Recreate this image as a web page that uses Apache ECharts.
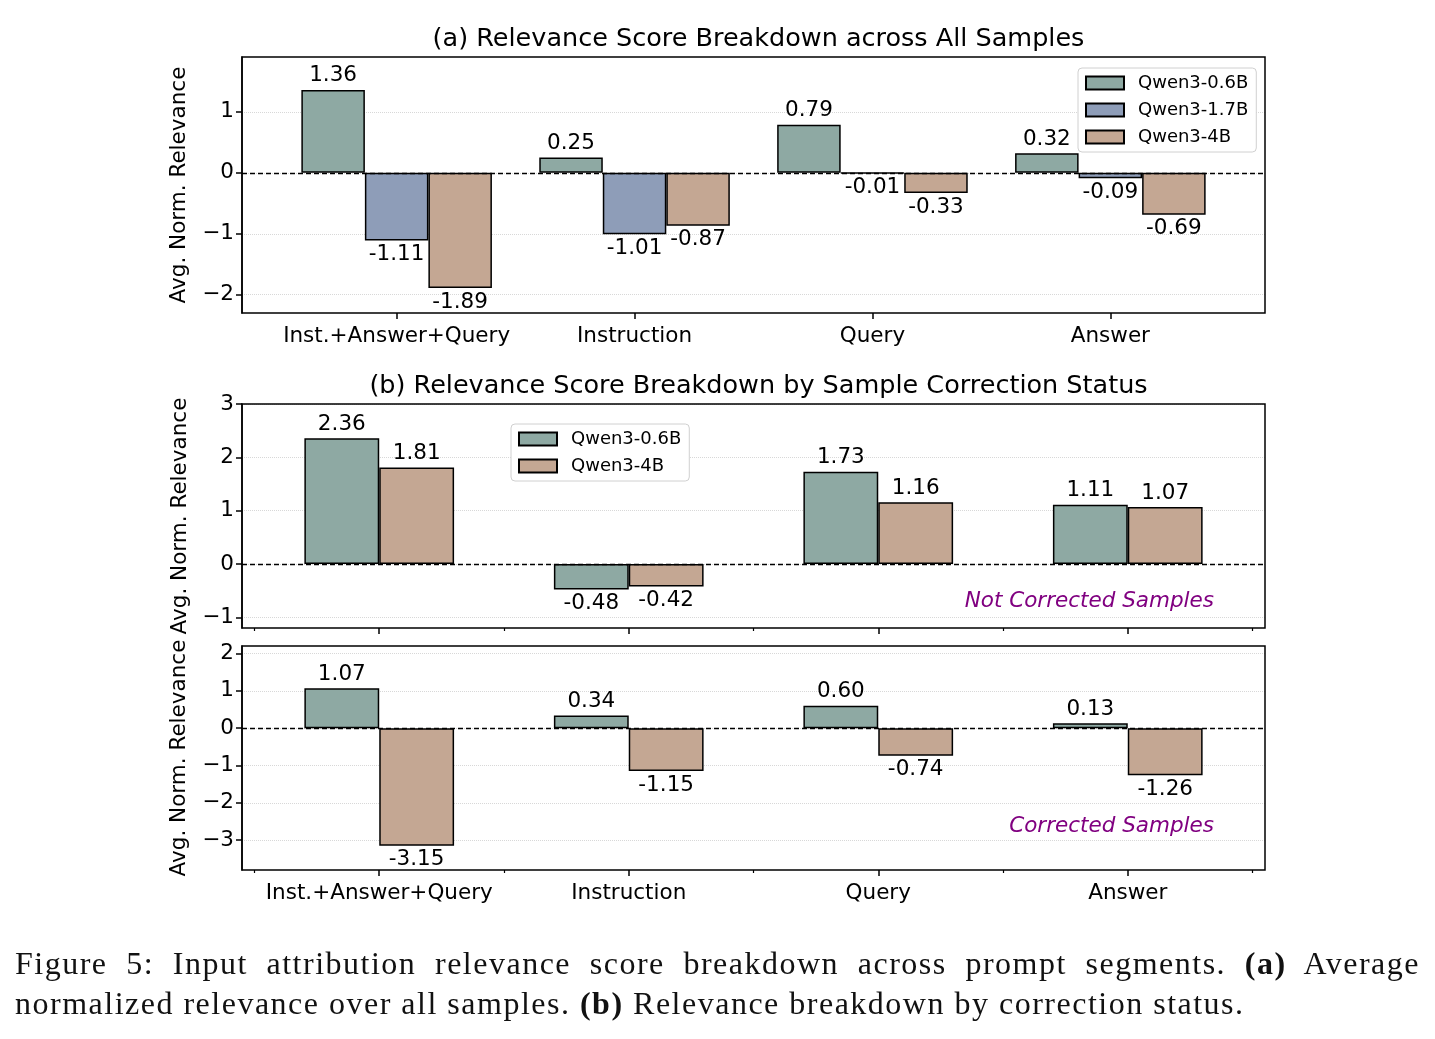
<!DOCTYPE html>
<html>
<head>
<meta charset="utf-8">
<script src="https://cdn.jsdelivr.net/npm/echarts@6/dist/echarts.min.js"></script>
<style>
  html, body { margin: 0; padding: 0; background: #fff; }
  #main { position: absolute; left: 0; top: 0; width: 1435px; height: 1039px; }
  .cap { position: absolute; left: 15px; width: 1405px; font-family: 'Liberation Serif', serif; font-size: 32px; line-height: 40px; letter-spacing: 1.5px; color: #111; white-space: nowrap; }
  #cap1 { top: 943px; text-align: justify; text-align-last: justify; }
  #cap2 { top: 983px; }
</style>
</head>
<body>
<div id="main"></div>
<div class="cap" id="cap1">Figure 5: Input attribution relevance score breakdown across prompt segments. <b>(a)</b> Average</div>
<div class="cap" id="cap2">normalized relevance over all samples. <b>(b)</b> Relevance breakdown by correction status.</div>
<script>
// 数据
var categories = ['Inst.+Answer+Query', 'Instruction', 'Query', 'Answer'];
var models = ['Qwen3-0.6B', 'Qwen3-1.7B', 'Qwen3-4B'];
var colors = ['#8ea9a3', '#8e9db8', '#c4a793'];

// (a) all samples
var all06 = [1.36, 0.25, 0.79, 0.32];
var all17 = [-1.11, -1.01, -0.01, -0.09];
var all4 = [-1.89, -0.87, -0.33, -0.69];
// (b) not corrected samples
var notCorr06 = [2.36, -0.48, 1.73, 1.11];
var notCorr4 = [1.81, -0.42, 1.16, 1.07];
// (b) corrected samples
var corr06 = [1.07, 0.34, 0.60, 0.13];
var corr4 = [-3.15, -1.15, -0.74, -1.26];

// y轴范围和刻度
var yRangeA = [-2.3, 1.9];
var yRangeB1 = [-1.2, 3.0];
var yRangeB2 = [-3.8, 2.2];
var yTicksA = [-2, -1, 0, 1];
var yTicksB1 = [-1, 0, 1, 2, 3];
var yTicksB2 = [-3, -2, -1, 0, 1, 2];

var FONT = 'DejaVu Sans';
var frameLeft = 242, frameWidth = 1023;

var chart = echarts.init(document.getElementById('main'));

// 只显示整数刻度, 用真正的减号
function minusFmt(v){
	if (!Number.isInteger(Math.round(v * 1000) / 1000)) return '';
	v = Math.round(v);
	return v < 0 ? '\u2212' + Math.abs(v) : String(v);
}

// 每个柱子的标签放在柱顶或柱底
function makeData(vals){
	return vals.map(function(v){
		return { value: v, label: { position: v < 0 ? 'bottom' : 'top' } };
	});
}

var grid = [], xAxis = [], yAxis = [], series = [];

// 一个子图: 外框grid(带y轴) + 内部grid(类目轴和柱子)
function addPanel(top, height, pad, yRange, yTicks, nameGap, showXLabels, minorTicks, barWidth, seriesList){
	var span = 3 + 2 * pad;
	var band = frameWidth / span;
	var innerLeft = frameLeft + (pad - 0.5) * band;
	var gOuter = grid.length;
	grid.push({ left: frameLeft, top: top, width: frameWidth, height: height, show: true, z: 3, borderColor: '#000', borderWidth: 1.5, backgroundColor: 'transparent' });
	grid.push({ left: innerLeft, top: top, width: band * 4, height: height });
	var xo = xAxis.length;
	xAxis.push({ type: 'value', gridIndex: gOuter, min: 0, max: 1, show: false });
	xAxis.push({
		type: 'category', gridIndex: gOuter + 1, data: categories, position: 'bottom',
		axisLine: { show: false, onZero: false },
		axisTick: { show: true, interval: 0, alignWithLabel: true, length: 6, lineStyle: { color: '#000', width: 1.5 } },
		axisLabel: { show: showXLabels, interval: 0, color: '#000', fontSize: 21.5, fontFamily: FONT, margin: 12 },
		splitLine: { show: false }
	});
	if (minorTicks) {
		xAxis.push({
			type: 'category', gridIndex: gOuter + 1, data: categories, position: 'bottom',
			axisLine: { show: false, onZero: false },
			axisTick: { show: true, interval: 0, alignWithLabel: false, length: 3, lineStyle: { color: '#000', width: 1.2 } },
			axisLabel: { show: false }, splitLine: { show: false }
		});
	}
	var yo = yAxis.length;
	yAxis.push({
		type: 'value', gridIndex: gOuter, min: yRange[0], max: yRange[1], minInterval: 1, maxInterval: 1,
		name: 'Avg. Norm. Relevance', nameLocation: 'middle', nameGap: nameGap,
		nameTextStyle: { color: '#000', fontSize: 21.5, fontFamily: FONT },
		axisLine: { show: true, lineStyle: { color: '#000', width: 1.5 } },
		axisTick: { show: true, customValues: yTicks, length: 6, lineStyle: { color: '#000', width: 1.5 } },
		axisLabel: { customValues: yTicks, color: '#000', fontSize: 21.5, fontFamily: FONT, margin: 8, formatter: minusFmt },
		splitLine: { show: true, lineStyle: { color: '#d8d8d8', type: 'dotted', width: 1 } }
	});
	yAxis.push({ type: 'value', gridIndex: gOuter + 1, min: yRange[0], max: yRange[1], show: false, splitLine: { show: false } });

	// 0 处的虚线
	series.push({
		type: 'line', xAxisIndex: xo, yAxisIndex: yo, data: [], silent: true, z: 5,
		markLine: { silent: true, symbol: 'none', label: { show: false }, animation: false,
			lineStyle: { type: [5, 3], color: '#000', width: 1.3 }, data: [{ yAxis: 0 }] }
	});
	seriesList.forEach(function(s){
		series.push({
			name: s.name, type: 'bar', xAxisIndex: xo + 1, yAxisIndex: yo + 1,
			data: makeData(s.vals), barWidth: barWidth, barGap: '0%',
			itemStyle: { color: s.color, borderColor: '#000', borderWidth: 1.5 },
			label: { show: true, distance: 3, color: '#000', fontSize: 21.5, fontFamily: FONT,
				formatter: function(p){ return p.value.toFixed(2); } },
			animation: false
		});
	});
}

addPanel(57, 256, 0.65, yRangeA, yTicksA, 52, true, false, '26.7%', [
	{ name: models[0], vals: all06, color: colors[0] },
	{ name: models[1], vals: all17, color: colors[1] },
	{ name: models[2], vals: all4, color: colors[2] }
]);
addPanel(404, 224, 0.55, yRangeB1, yTicksB1, 43, false, true, '30%', [
	{ name: models[0], vals: notCorr06, color: colors[0] },
	{ name: models[2], vals: notCorr4, color: colors[2] }
]);
addPanel(646, 224, 0.55, yRangeB2, yTicksB2, 52, true, true, '30%', [
	{ name: models[0], vals: corr06, color: colors[0] },
	{ name: models[2], vals: corr4, color: colors[2] }
]);

var legendBase = {
	orient: 'vertical', icon: 'rect', itemWidth: 38, itemHeight: 13, itemGap: 9,
	padding: [6, 8, 6, 7], backgroundColor: '#fff', borderColor: '#d0d0d0', borderWidth: 1, borderRadius: 4,
	textStyle: { color: '#000', fontSize: 18, fontFamily: FONT, lineHeight: 18, padding: [0, 0, 0, 9] },
	selectedMode: false
};

var option = {
	backgroundColor: '#fff',
	animation: false,
	title: [
		{ text: '(a) Relevance Score Breakdown across All Samples', left: frameLeft + frameWidth / 2, textAlign: 'center', top: 21,
			textStyle: { color: '#000', fontSize: 25.5, fontWeight: 'normal', fontFamily: FONT } },
		{ text: '(b) Relevance Score Breakdown by Sample Correction Status', left: frameLeft + frameWidth / 2, textAlign: 'center', top: 368,
			textStyle: { color: '#000', fontSize: 25.5, fontWeight: 'normal', fontFamily: FONT } },
		{ text: 'Not Corrected Samples', right: 216, top: 585,
			textStyle: { color: '#800080', fontSize: 21.5, fontStyle: 'italic', fontWeight: 'normal', fontFamily: FONT } },
		{ text: 'Corrected Samples', right: 216, top: 810,
			textStyle: { color: '#800080', fontSize: 21.5, fontStyle: 'italic', fontWeight: 'normal', fontFamily: FONT } }
	],
	legend: [
		Object.assign({}, legendBase, { left: 1078, top: 68, data: models }),
		Object.assign({}, legendBase, { left: 511, top: 424, data: [models[0], models[2]] })
	],
	grid: grid,
	xAxis: xAxis,
	yAxis: yAxis,
	series: series
};

chart.setOption(option);
</script>
</body>
</html>
